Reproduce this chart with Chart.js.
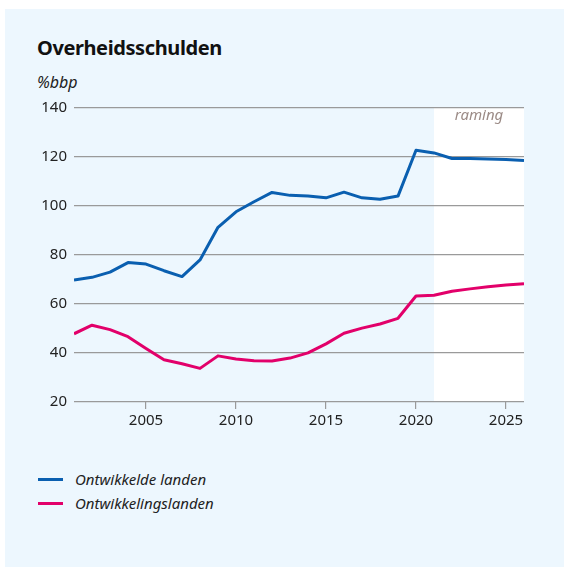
<!DOCTYPE html>
<html>
<head>
<meta charset="utf-8">
<script src="https://cdn.jsdelivr.net/npm/chart.js@4/dist/chart.umd.min.js"></script>
<style>
  html, body { margin: 0; padding: 0; background: #ffffff; }
  body { width: 564px; height: 567px; position: relative; overflow: hidden; font-family: "Noto Sans", sans-serif; }
  #panel { position: absolute; left: 5px; top: 9px; width: 559px; height: 558px; background: #edf7fe; }
  #title { position: absolute; left: 37px; top: 34px; font-size: 20px; font-weight: bold; color: #111; letter-spacing: -0.4px; }
  #unit { position: absolute; left: 37px; top: 71px; font-size: 16px; font-style: italic; color: #222; }
  #chartbox { position: absolute; left: 0; top: 90px; width: 564px; height: 350px; }
  #legend { position: absolute; left: 38px; top: 467px; }
  .item { height: 24px; display: flex; align-items: center; font-size: 15px; font-style: italic; color: #222; }
  .swatch { width: 25px; height: 3px; margin-right: 12px; }
</style>
</head>
<body>
<div id="panel"></div>
<div id="title">Overheidsschulden</div>
<div id="unit">%bbp</div>
<div id="chartbox"><canvas id="c" width="564" height="350"></canvas></div>
<div id="legend"></div>
<script>
const years = [2001,2002,2003,2004,2005,2006,2007,2008,2009,2010,2011,2012,2013,2014,2015,2016,2017,2018,2019,2020,2021,2022,2023,2024,2025,2026];
const ontwikkeldeLanden = [69.7,70.8,72.9,76.8,76.2,73.5,71.1,77.9,91.2,97.5,101.6,105.4,104.2,103.9,103.2,105.5,103.2,102.6,103.9,122.6,121.5,119.2,119.2,119.0,118.8,118.4];
const ontwikkelingslanden = [47.8,51.3,49.5,46.6,41.8,37.2,35.6,33.7,38.8,37.5,36.8,36.7,37.9,40.0,43.7,48.0,50.1,51.8,54.1,63.2,63.5,65.1,66.1,67.0,67.7,68.2];
const seriesNames = ["Ontwikkelde landen", "Ontwikkelingslanden"];
const seriesColors = ["#0a5fb0", "#e2006a"];
const xTickYears = [2005, 2010, 2015, 2020, 2025];
const yTicks = [20, 40, 60, 80, 100, 120, 140];
const forecastStart = 2021;
const forecastLabel = "raming";

const forecastPlugin = {
  id: 'forecast',
  beforeDraw(chart) {
    const { ctx, chartArea, scales } = chart;
    const x0 = scales.x.getPixelForValue(forecastStart);
    ctx.save();
    ctx.fillStyle = '#ffffff';
    ctx.fillRect(x0, chartArea.top, chartArea.right - x0, chartArea.bottom - chartArea.top);
    ctx.fillStyle = '#9b8b86';
    ctx.font = 'italic 15px "Noto Sans"';
    ctx.textAlign = 'center';
    ctx.textBaseline = 'middle';
    ctx.fillText(forecastLabel, (x0 + chartArea.right) / 2, chartArea.top + 8);
    ctx.restore();
  }
};

const datasets = [ontwikkeldeLanden, ontwikkelingslanden].map((vals, i) => ({
  label: seriesNames[i],
  data: years.map((y, j) => ({ x: y, y: vals[j] })),
  borderColor: seriesColors[i],
  backgroundColor: seriesColors[i],
  borderWidth: 3,
  pointRadius: 0,
  tension: 0,
  borderJoinStyle: 'round'
}));

new Chart(document.getElementById('c'), {
  type: 'line',
  data: { datasets },
  plugins: [forecastPlugin],
  options: {
    responsive: false,
    animation: false,
    layout: { padding: { left: 0, right: 40, top: 17.5, bottom: 0 } },
    plugins: { legend: { display: false }, tooltip: { enabled: false } },
    scales: {
      x: {
        type: 'linear',
        min: years[0],
        max: years[years.length - 1],
        afterBuildTicks: (s) => { s.ticks = xTickYears.map(v => ({ value: v })); },
        afterFit: (s) => { s.height = 38; },
        border: { display: false },
        grid: { drawOnChartArea: false, drawTicks: true, tickLength: 7, tickColor: '#9a9a9a', lineWidth: 1.2 },
        ticks: { color: '#222', font: { family: 'Noto Sans', size: 15 }, padding: 3, maxRotation: 0, callback: v => String(v) }
      },
      y: {
        min: 20,
        max: 140,
        afterBuildTicks: (s) => { s.ticks = yTicks.map(v => ({ value: v })); },
        afterFit: (s) => { s.width = 74; },
        border: { display: false },
        grid: { drawTicks: false, color: '#9a9a9a', lineWidth: 1.2 },
        ticks: { color: '#222', font: { family: 'Noto Sans', size: 15 }, padding: 7 }
      }
    }
  }
});

const legend = document.getElementById('legend');
seriesNames.forEach((n, i) => {
  const d = document.createElement('div');
  d.className = 'item';
  const sw = document.createElement('span');
  sw.className = 'swatch';
  sw.style.background = seriesColors[i];
  const t = document.createElement('span');
  t.textContent = n;
  d.appendChild(sw); d.appendChild(t);
  legend.appendChild(d);
});
</script>
</body>
</html>
